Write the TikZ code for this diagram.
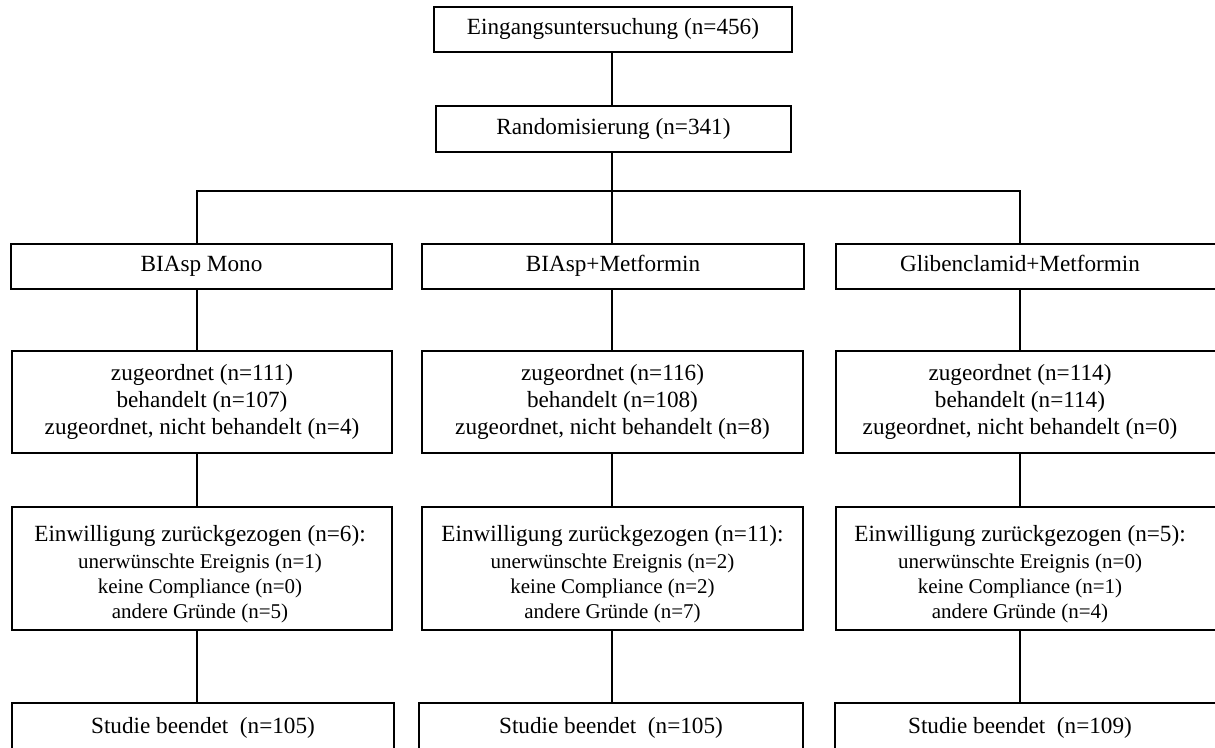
\documentclass[tikz,border=0pt]{standalone}
\usepackage{fontspec}
\setmainfont{Liberation Serif}
\newcommand{\subf}{\fontsize{21}{25}\selectfont}
\begin{document}
\begin{tikzpicture}[x=1pt,y=-1pt, line width=1.6pt,
  box/.style={draw, rectangle, inner sep=0pt, align=center, font=\fontsize{23.2}{27}\selectfont},
  txt/.style={inner sep=0pt, align=center, font=\fontsize{23.2}{27}\selectfont}]
\useasboundingbox (0,0) rectangle (1215,747);
\coordinate (cL) at (197,0);
\coordinate (cM) at (612,0);
\coordinate (cR) at (1020,0);
\coordinate (hy) at (0,191);

\node[box, minimum width=358pt, minimum height=45pt] (top) at (613,29.5) {\strut Eingangsuntersuchung (n=456)};
\node[box, minimum width=355pt, minimum height=46pt] (rand) at (613.5,129) {\strut Randomisierung (n=341)};

% row 1
\node[box, minimum width=381pt, minimum height=45pt] (l1) at (201.5,266.5) {\strut BIAsp\ Mono};
\node[box, minimum width=382pt, minimum height=45pt] (m1) at (613,266.5) {\strut BIAsp+Metformin};
\node[box, minimum width=389pt, minimum height=45pt] (r1) at (1030.5,266.5) {};
\node[txt] (r1t) at (1020,266.5) {\strut Glibenclamid+Metformin};

% row 2
\node[box, minimum width=380pt, minimum height=102pt] (l2) at (202,402) {zugeordnet (n=111)\\behandelt (n=107)\\zugeordnet, nicht behandelt\ (n=4)};
\node[box, minimum width=381pt, minimum height=102pt] (m2) at (612.5,402) {zugeordnet (n=116)\\behandelt (n=108)\\zugeordnet, nicht behandelt\ (n=8)};
\node[box, minimum width=389pt, minimum height=102pt] (r2) at (1030.5,402) {};
\node[txt] (r2t) at (1020,402) {zugeordnet (n=114)\\behandelt (n=114)\\zugeordnet, nicht behandelt\ (n=0)};

% row 3
\node[box, minimum width=380pt, minimum height=123pt] (l3) at (202,568.5) {};
\node[txt] (l3t) at (200,574) {Einwilligung zurückgezogen (n=6):\\{\subf unerwünschte Ereignis\ (n=1)}\\[-2pt]{\subf keine Compliance (n=0)}\\[-2pt]{\subf andere Gründe (n=5)}};
\node[box, minimum width=381pt, minimum height=123pt] (m3) at (612.5,568.5) {};
\node[txt] (m3t) at (612.5,574) {Einwilligung zurückgezogen (n=11):\\{\subf unerwünschte Ereignis\ (n=2)}\\[-2pt]{\subf keine Compliance (n=2)}\\[-2pt]{\subf andere Gründe (n=7)}};
\node[box, minimum width=389pt, minimum height=123pt] (r3) at (1030.5,568.5) {};
\node[txt] (r3t) at (1020,574) {Einwilligung zurückgezogen (n=5):\\{\subf unerwünschte Ereignis\ (n=0)}\\[-2pt]{\subf keine Compliance (n=1)}\\[-2pt]{\subf andere Gründe (n=4)}};

% row 4
\node[box, minimum width=382pt, minimum height=50pt] (l4) at (203,728) {\strut Studie beendet\ \ (n=105)};
\node[box, minimum width=384pt, minimum height=50pt] (m4) at (611,728) {\strut Studie beendet\ \ (n=105)};
\node[box, minimum width=390pt, minimum height=50pt] (r4) at (1030,728) {};
\node[txt] (r4t) at (1020,728) {\strut Studie beendet\ \ (n=109)};

% connectors
\draw (top.south -| cM) -- (rand.north -| cM);
\draw (rand.south -| cM) -- (m1.north -| cM);
\draw (l1.north -| cL) -- (hy -| cL) -- (hy -| cR) -- (r1.north -| cR);
\draw (l1.south -| cL) -- (l2.north -| cL);
\draw (l2.south -| cL) -- (l3.north -| cL);
\draw (l3.south -| cL) -- (l4.north -| cL);
\draw (m1.south -| cM) -- (m2.north -| cM);
\draw (m2.south -| cM) -- (m3.north -| cM);
\draw (m3.south -| cM) -- (m4.north -| cM);
\draw (r1.south -| cR) -- (r2.north -| cR);
\draw (r2.south -| cR) -- (r3.north -| cR);
\draw (r3.south -| cR) -- (r4.north -| cR);
\end{tikzpicture}
\end{document}
